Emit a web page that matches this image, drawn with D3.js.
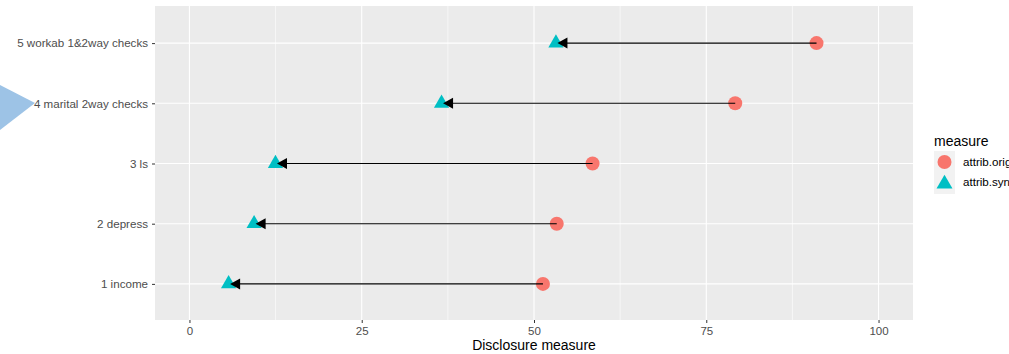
<!DOCTYPE html>
<html><head><meta charset="utf-8">
<script src="https://cdn.jsdelivr.net/npm/d3@7"></script>
<style>body{margin:0;background:#fff}svg{display:block}text{font-family:"Liberation Sans",Arial,sans-serif}</style>
</head><body><svg id="c" width="1009" height="354"></svg>
<script>
const categories = ["1 income","2 depress","3 ls","4 marital 2way checks","5 workab 1&2way checks"];
const attribOrig = [51.3, 53.3, 58.5, 79.2, 91.0];
const attribSyn = [5.9, 9.6, 12.7, 36.8, 53.4];
const xTicks = [0,25,50,75,100];
const xMinor = [12.5,37.5,62.5,87.5];
const legendLabels = ["attrib.orig","attrib.syn"];

const svg = d3.select("#c");
const L=155,R=913,T=6,B=320;
const x = d3.scaleLinear().domain([-5,105]).range([L,R]);
const y = d3.scalePoint().domain(categories).range([B,T+1]).padding(0.6);

// decorative triangle overlay
svg.append("path").attr("d","M0,85 L35,103 L0,130 Z").attr("fill","#9dc3e6");

svg.append("rect").attr("x",L).attr("y",T).attr("width",R-L).attr("height",B-T).attr("fill","#ebebeb");
const g = svg.append("g");
xMinor.forEach(v=>g.append("line").attr("x1",x(v)).attr("x2",x(v)).attr("y1",T).attr("y2",B).attr("stroke","#fff").attr("stroke-width",0.6));
xTicks.forEach(v=>g.append("line").attr("x1",x(v)).attr("x2",x(v)).attr("y1",T).attr("y2",B).attr("stroke","#fff").attr("stroke-width",1.1));
categories.forEach(c=>g.append("line").attr("x1",L).attr("x2",R).attr("y1",y(c)).attr("y2",y(c)).attr("stroke","#fff").attr("stroke-width",1.1));

// axes
const xa = svg.append("g").attr("transform",`translate(0,${B})`).call(d3.axisBottom(x).tickValues(xTicks).tickSize(3).tickPadding(4));
xa.select(".domain").remove();
xa.selectAll("line").attr("stroke","#333");
xa.selectAll("text").attr("fill","#4d4d4d").style("font-size","11.5px");
const ya = svg.append("g").attr("transform",`translate(${L},0)`).call(d3.axisLeft(y).tickSize(3).tickPadding(4));
ya.select(".domain").remove();
ya.selectAll("line").attr("stroke","#333");
ya.selectAll("text").attr("fill","#4d4d4d").style("font-size","11.6px");

svg.append("text").attr("x",(L+R)/2).attr("y",350).attr("text-anchor","middle").style("font-size","14px").attr("fill","#000").text("Disclosure measure");

// points
const tri = d3.symbol().type(d3.symbolTriangle).size(100);
categories.forEach((c,i)=>{
  svg.append("circle").attr("cx",x(attribOrig[i])).attr("cy",y(c)).attr("r",7).attr("fill","#F8766D");
  svg.append("path").attr("d",tri()).attr("transform",`translate(${x(attribSyn[i])-1.5},${y(c)})`).attr("fill","#00BFC4");
});
// arrows
categories.forEach((c,i)=>{
  const x1=x(attribOrig[i]), x2=x(attribSyn[i]), yy=y(c);
  svg.append("line").attr("x1",x1).attr("x2",x2+9).attr("y1",yy).attr("y2",yy).attr("stroke","#000").attr("stroke-width",1.1);
  svg.append("path").attr("d",`M${x2},${yy} L${x2+10},${yy-5.5} L${x2+10},${yy+5.5} Z`).attr("fill","#000");
});

// legend
svg.append("text").attr("x",934).attr("y",146).style("font-size","14px").attr("fill","#000").text("measure");
svg.append("rect").attr("x",934).attr("y",151).attr("width",21).attr("height",43).attr("fill","#f2f2f2");
svg.append("circle").attr("cx",944.5).attr("cy",162).attr("r",7).attr("fill","#F8766D");
svg.append("path").attr("d",d3.symbol().type(d3.symbolTriangle).size(110)()).attr("transform","translate(944.5,184)").attr("fill","#00BFC4");
legendLabels.forEach((t,i)=>svg.append("text").attr("x",963).attr("y",166+i*20).style("font-size","11.6px").attr("fill","#000").text(t));
</script></body></html>
